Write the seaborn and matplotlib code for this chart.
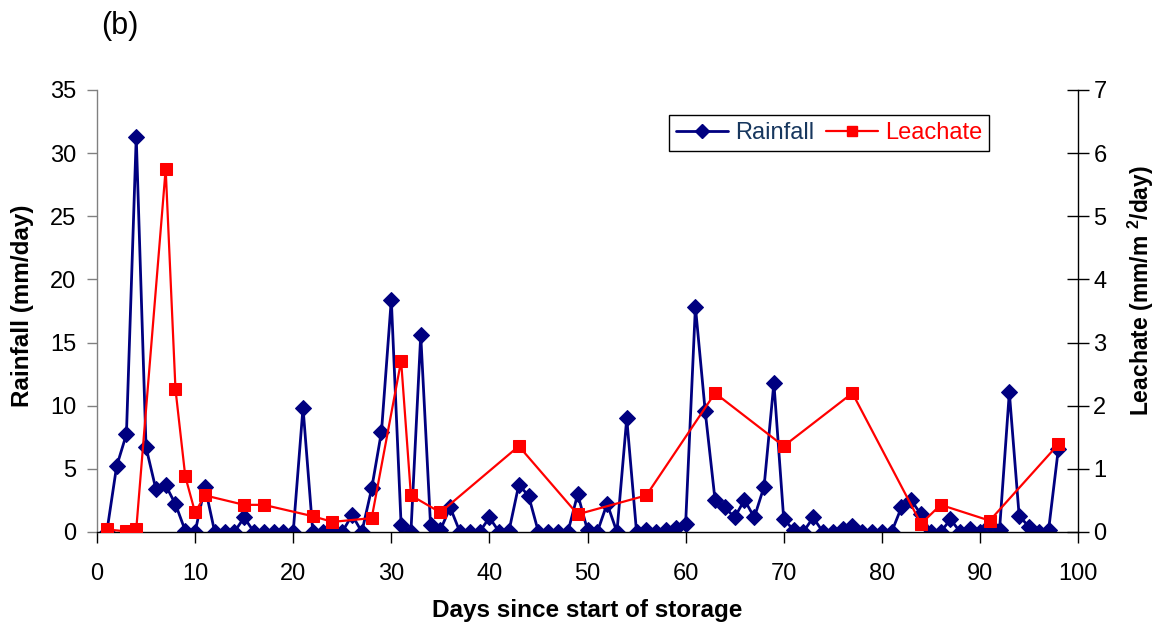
import matplotlib
matplotlib.use('Agg')
import matplotlib.pyplot as plt
import seaborn as sns
from matplotlib.lines import Line2D

# ---- data ----
rain_days = list(range(1, 99))
rainfall = [0, 5.2, 7.75, 31.3, 6.7, 3.4, 3.7, 2.2, 0.1, 0,
            3.6, 0, 0, 0, 1.15, 0, 0, 0, 0, 0,
            9.85, 0, 0, 0, 0, 1.35, 0, 3.45, 7.95, 18.4,
            0.55, 0, 15.6, 0.55, 0.15, 1.95, 0, 0, 0, 1.15,
            0, 0.1, 3.75, 2.85, 0, 0, 0, 0, 3.0, 0.15,
            0, 2.25, 0, 9.0, 0, 0.15, 0, 0.15, 0.35, 0.6,
            17.85, 9.55, 2.55, 1.95, 1.15, 2.55, 1.15, 3.6, 11.8, 1.05,
            0.15, 0, 1.15, 0, 0, 0.2, 0.5, 0, 0, 0,
            0, 1.95, 2.5, 1.4, 0, 0, 1.0, 0, 0.2, 0,
            0.55, 0.15, 11.05, 1.3, 0.4, 0, 0.15, 6.6]
leach_days = [1, 3, 4, 7, 8, 9, 10, 11, 15, 17, 22, 24, 28, 31, 32, 35,
              43, 49, 56, 63, 70, 77, 84, 86, 91, 98]
leachate = [0.04, 0.01, 0.04, 5.75, 2.26, 0.88, 0.31, 0.58, 0.43, 0.43,
            0.25, 0.16, 0.22, 2.71, 0.58, 0.31, 1.36, 0.28, 0.58, 2.2,
            1.36, 2.2, 0.13, 0.43, 0.18, 1.39]
x_ticks = list(range(0, 101, 10))
left_ticks = list(range(0, 36, 5))
right_ticks = list(range(0, 8))
series_names = ['Rainfall', 'Leachate']

NAVY = '#000080'
RED = '#FF0000'

sns.set_theme(style='white')
plt.rcParams['font.family'] = ['Liberation Sans', 'DejaVu Sans']
plt.rcParams['text.color'] = 'black'
plt.rcParams['axes.labelcolor'] = 'black'
plt.rcParams['xtick.color'] = 'black'
plt.rcParams['ytick.color'] = 'black'
plt.rcParams['mathtext.fontset'] = 'custom'
plt.rcParams['mathtext.rm'] = 'Liberation Sans'
plt.rcParams['mathtext.bf'] = 'Liberation Sans:bold'

FS = 17
LFS = 17.5
fig = plt.figure(figsize=(11.58, 6.28), dpi=100)
ax = fig.add_axes([97 / 1158, 1 - 532 / 628, 981 / 1158, 442 / 628])
ax2 = ax.twinx()

sns.lineplot(x=rain_days, y=rainfall, ax=ax, color=NAVY, marker='D',
             markersize=8, linewidth=2, markeredgecolor=NAVY, legend=False)
sns.lineplot(x=leach_days, y=leachate, ax=ax2, color=RED, marker='s',
             markersize=8.5, linewidth=1.6, markeredgecolor=RED, legend=False)

ax.set_xlim(0, 100)
ax.set_ylim(0, 35)
ax2.set_ylim(0, 7)
ax.set_xticks(x_ticks)
ax.set_yticks(left_ticks)
ax2.set_yticks(right_ticks)
ax.set_xticklabels([str(t) for t in x_ticks])
ax.set_yticklabels([str(t) for t in left_ticks])
ax2.set_yticklabels([str(t) for t in right_ticks])

ax.tick_params(axis='x', direction='out', length=8, width=1, color='black',
               labelcolor='black', labelsize=FS, pad=14, bottom=True)
ax.tick_params(axis='y', direction='out', length=7, width=1, color='#808080',
               labelcolor='black', labelsize=FS, pad=8, left=True)
ax2.tick_params(axis='y', direction='inout', length=16, width=1, color='black',
                labelcolor='black', labelsize=FS, pad=3, right=True)

for a in (ax, ax2):
    a.spines['top'].set_visible(False)
    a.grid(False)
ax.spines['right'].set_visible(False)
ax.spines['left'].set_color('#808080')
ax.spines['bottom'].set_color('black')
ax2.spines['left'].set_visible(False)
ax2.spines['bottom'].set_visible(False)
ax2.spines['right'].set_color('black')
for s in ('left', 'bottom'):
    ax.spines[s].set_linewidth(1)
ax2.spines['right'].set_linewidth(1)

ax.set_xlabel('Days since start of storage', fontsize=LFS, fontweight='bold')
ax.set_ylabel('Rainfall (mm/day)', fontsize=LFS, fontweight='bold')
ax2.set_ylabel('Leachate (mm/m $^{\\mathbf{2}}$/day)', fontsize=16.5,
               fontweight='bold')
ax.xaxis.set_label_coords(0.5, -0.152)
ax.yaxis.set_label_coords((34 - 97) / 981, (532 - 306) / 442)
ax2.yaxis.set_label_coords((1126 - 97) / 981, (532 - 291) / 442)

handles = [Line2D([], [], color=NAVY, marker='D', markersize=7, linewidth=2),
           Line2D([], [], color=RED, marker='s', markersize=7, linewidth=1.6)]
leg = ax2.legend(handles, series_names, loc='upper left',
                 bbox_to_anchor=((669 - 97) / 981, (532 - 115) / 442),
                 ncol=2, fontsize=FS, frameon=True, fancybox=False,
                 framealpha=1, edgecolor='black', borderaxespad=0,
                 handlelength=2.2, handletextpad=0.3, columnspacing=0.5,
                 borderpad=0.3)
leg.get_frame().set_linewidth(1)
leg.get_texts()[0].set_color('#17375E')
leg.get_texts()[1].set_color(RED)

fig.text(120 / 1158, 1 - 26 / 628, '(b)', ha='center', va='center', fontsize=22)

fig.savefig('out.png', dpi=100)
